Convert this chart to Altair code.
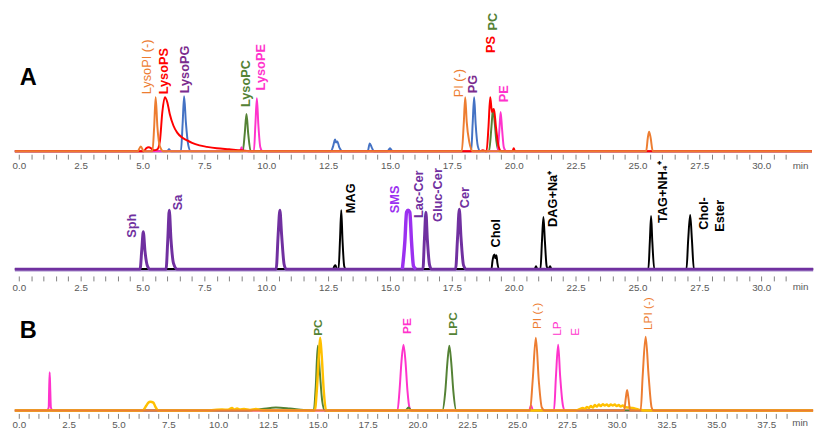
import altair as alt
import pandas as pd

FONT = "Liberation Sans"
ORANGE = "#ED7D31"
RED = "#FF0000"
BLUE = "#4472C4"
GREEN = "#548235"
MAGENTA = "#FF33CC"
PURPLE = "#7030A0"
PURPLE_TXT = "#7B2C8E"
VIOLET = "#9B30F0"
LAVENDER = "#A58BC9"
YELLOW = "#FFC000"
BLACK = "#000000"

# ---------------- Panel A (top) : (time [min], intensity) ----------------
A_BLUE = [(-0.16, 0), (6.0, 0), (6.07, 2), (6.14, 0), (6.55, 0), (6.62, 28), (6.68, 56), (6.75, 30),
          (6.85, 6), (6.95, 0), (12.6, 0), (12.7, 5), (12.75, 10), (12.78, 12), (12.82, 9), (12.87, 10),
          (12.95, 4), (13.1, 0), (14.1, 0), (14.18, 8), (14.26, 4), (14.35, 0), (14.9, 0), (15.0, 3),
          (15.1, 0), (18.28, 0), (18.34, 28), (18.4, 55), (18.46, 28), (18.55, 5), (18.65, 0), (32.05, 0)]
A_GREEN = [(-0.16, 0), (9.05, 0), (9.13, 18), (9.2, 38), (9.27, 18), (9.37, 0), (19.0, 0), (19.1, 25),
           (19.16, 43), (19.22, 32), (19.3, 10), (19.4, 0), (32.05, 0)]
A_MAGENTA = [(-0.16, 0), (8.95, 0), (9.0, 4), (9.05, 0), (9.5, 0), (9.56, 27), (9.62, 54), (9.68, 27),
             (9.76, 4), (9.85, 0), (19.35, 0), (19.42, 22), (19.47, 40), (19.53, 22), (19.6, 4),
             (19.7, 0), (32.05, 0)]
A_RED = [(-0.16, 0), (5.05, 0), (5.15, 3), (5.25, 4), (5.35, 3), (5.45, 1), (5.6, 2), (5.7, 10),
         (5.8, 40), (5.9, 55), (6.0, 50), (6.1, 38), (6.25, 26), (6.4, 19), (6.6, 14), (6.8, 11),
         (7.0, 8.5), (7.3, 6), (7.6, 4.5), (8.0, 3), (8.5, 2), (9.0, 1), (9.4, 0), (18.6, 0),
         (18.75, 1), (18.9, 0), (18.98, 25), (19.05, 55), (19.12, 40), (19.2, 43), (19.28, 25),
         (19.38, 6), (19.5, 0), (19.95, 0), (20.0, 3), (20.05, 0), (32.05, 0)]
A_ORANGE = [(-0.16, 0), (4.8, 0), (4.93, 5), (5.05, 0), (5.4, 0), (5.47, 25), (5.53, 55), (5.6, 25),
            (5.7, 5), (5.85, 0), (17.9, 0), (17.98, 28), (18.04, 55), (18.1, 30), (18.2, 10),
            (18.35, 0), (25.35, 0), (25.42, 14), (25.47, 20), (25.53, 14), (25.62, 0), (32.05, 0)]

A_LABELS_BOLD = [("LysoPS", 5.88, 58, RED), ("LysoPG", 6.71, 59, PURPLE_TXT),
                 ("LysoPC", 9.18, 45, GREEN), ("LysoPE", 9.81, 62, MAGENTA),
                 ("PG", 18.36, 59, PURPLE_TXT), ("PS", 19.1, 100, RED),
                 ("PC", 19.15, 123, GREEN), ("PE", 19.59, 50, MAGENTA)]
A_LABELS_NORMAL = [("LysoPI (-)", 5.2, 58, ORANGE), ("PI (-)", 17.8, 55, ORANGE)]

# ---------------- Panel A (middle) ----------------
M_LAV = [(-0.16, -1.5), (32.1, -1.5)]
M_BLACK = [(-0.16, 0), (12.7, 0), (12.75, 3), (12.8, 4), (12.85, 0), (12.92, 0), (12.98, 30),
           (13.03, 60), (13.08, 30), (13.15, 3), (13.22, 0), (19.1, 0), (19.14, 8), (19.18, 13),
           (19.22, 15), (19.26, 11), (19.3, 14), (19.34, 6), (19.4, 0), (20.85, 0), (20.9, 3),
           (20.95, 0), (21.08, 0), (21.14, 28), (21.2, 53), (21.26, 28), (21.33, 3), (21.4, 0),
           (21.47, 3), (21.52, 0), (25.44, 0), (25.5, 28), (25.55, 54), (25.6, 28), (25.68, 0),
           (26.98, 0), (27.05, 30), (27.13, 55), (27.2, 30), (27.28, 0), (32.1, 0)]
M_PURPLE = [(-0.16, 0), (4.9, 0), (4.97, 20), (5.03, 38), (5.1, 18), (5.2, 3), (5.3, 0), (5.95, 0),
            (6.02, 30), (6.08, 60), (6.15, 30), (6.25, 6), (6.4, 0), (10.4, 0), (10.48, 35),
            (10.55, 60), (10.62, 35), (10.72, 5), (10.8, 0), (16.33, 0), (16.39, 30), (16.45, 58),
            (16.51, 30), (16.6, 4), (16.68, 0), (17.65, 0), (17.73, 32), (17.8, 61), (17.87, 32),
            (17.97, 4), (18.07, 0), (32.1, 0)]
M_VIOLET = [(15.5, 0), (15.6, 28), (15.67, 58), (15.73, 60), (15.8, 58), (15.87, 28), (15.95, 3),
            (16.05, 0)]

M_LABELS_PURPLE = [("Sph", 4.57, 32, PURPLE), ("Sa", 6.44, 60, PURPLE), ("SMS", 15.22, 57, VIOLET),
                   ("Lac-Cer", 16.17, 52, PURPLE), ("Gluc-Cer", 16.96, 48, PURPLE),
                   ("Cer", 18.04, 62, PURPLE)]
M_LABELS_BLACK = [("MAG", 13.43, 57, BLACK), ("Chol", 19.27, 22, BLACK),
                  ("DAG+Na\u207a", 21.57, 43, BLACK), ("TAG+NH\u2084\u207a", 26.02, 47, BLACK),
                  ("Chol-", 27.69, 40, BLACK), ("Ester", 28.33, 38, BLACK)]

# ---------------- Panel B (bottom) ----------------
B_MAGENTA = [(-0.2, 0), (1.4, 0), (1.5, 3), (1.52, 20), (1.55, 39), (1.58, 20), (1.61, 3), (1.7, 0),
             (19.0, 0), (19.1, 20), (19.2, 50), (19.3, 67), (19.4, 50), (19.5, 20), (19.6, 3),
             (19.7, 0), (25.6, 0), (25.7, 5), (25.8, 0), (26.85, 0), (26.95, 35), (27.06, 67),
             (27.16, 35), (27.3, 5), (27.4, 0), (39.85, 0)]
B_GREEN = [(-0.2, 0), (11.5, 0), (12.2, 1.5), (12.9, 3), (13.6, 2), (14.3, 0.5), (14.8, 0),
           (14.9, 25), (15.0, 66), (15.1, 40), (15.22, 10), (15.35, 0), (19.4, 0), (19.55, 3),
           (19.7, 0), (21.25, 0), (21.4, 20), (21.5, 48), (21.6, 66), (21.7, 48), (21.8, 20),
           (21.95, 0), (39.85, 0)]
B_YELLOW = [(-0.2, 0), (6.2, 0), (6.4, 5), (6.5, 8), (6.6, 9), (6.75, 8), (6.85, 4), (7.0, 0),
            (9.4, 0), (9.8, 0.5), (10.2, 1), (10.5, 0.8), (10.7, 2.5), (10.8, 1), (10.95, 2),
            (11.1, 1), (11.3, 1.5), (11.6, 0.5), (11.9, 1.5), (12.1, 0.5), (12.5, 0), (14.85, 0),
            (14.95, 20), (15.05, 55), (15.12, 74), (15.2, 55), (15.3, 20), (15.42, 0), (27.9, 0),
            (28.1, 1), (28.3, 2.5), (28.4, 1.5), (28.5, 3.5), (28.6, 2.5), (28.7, 4.5), (28.8, 3),
            (28.9, 5.5), (29.0, 4), (29.1, 6), (29.2, 4.5), (29.3, 6.5), (29.4, 5), (29.5, 6),
            (29.6, 4.5), (29.7, 6), (29.8, 5), (29.9, 6), (30.0, 4.5), (30.1, 5.5), (30.2, 4),
            (30.3, 5), (30.4, 3.5), (30.6, 3), (30.8, 2.5), (31.0, 1.5), (31.2, 0.5), (31.4, 0),
            (39.85, 0)]
B_ORANGE = [(-0.2, 0), (25.65, 0), (25.78, 30), (25.94, 74), (26.09, 30), (26.24, 3), (26.38, 0),
            (30.37, 0), (30.45, 12), (30.52, 21), (30.59, 12), (30.67, 0), (31.2, 0), (31.3, 35),
            (31.45, 75), (31.6, 35), (31.75, 3), (31.85, 0), (39.85, 0)]

B_LABELS_BOLD = [("PC", 15.02, 76, GREEN), ("PE", 19.46, 78, MAGENTA), ("LPC", 21.77, 76, GREEN)]
B_LABELS_NORMAL = [("PI (-)", 25.98, 83, ORANGE), ("LP", 27.02, 76, MAGENTA), ("E", 27.9, 76, MAGENTA),
                   ("LPI (-)", 31.55, 82, ORANGE)]

# panel letters and unit labels: (text, time, intensity)
A_LETTER = [("A", 0.38, 74)]
B_LETTER = [("B", 0.47, 81)]
MIN_TOP = [("min", 31.59, -15)]
MIN_MID = [("min", 31.59, -18)]
MIN_BOT = [("min", 39.2, -13)]

TICKS_AB = [i * 0.5 for i in range(0, 63)]   # 0.0 ... 31.0
TICKS_C = [i * 0.5 for i in range(0, 78)]    # 0.0 ... 38.5

W = 808


def make_axis(values, offset, pad):
    return alt.Axis(values=values, labelExpr="datum.value % 2.5 == 0 ? format(datum.value, '.1f') : ''",
                    domain=False, grid=False, ticks=True, tickSize=5, tickColor="#808080", tickWidth=1,
                    labelFontSize=10, labelColor="#595959", labelFont=FONT, labelPadding=pad,
                    labelOverlap=False, labelFlush=False, labelBound=False, title=None, offset=offset)


def panel(traces, label_sets, extra_texts, xdom, ydom, height, axis, label_size):
    xs = alt.Scale(domain=xdom, nice=False, zero=False)
    ys = alt.Scale(domain=ydom, nice=False, zero=False)
    X = alt.X("t:Q", scale=xs, axis=axis)
    Y = alt.Y("v:Q", scale=ys, axis=None)
    layers = []
    for pts, color, width in traces:
        df = pd.DataFrame(pts, columns=["t", "v"])
        layers.append(alt.Chart(df).mark_line(color=color, strokeWidth=width, interpolate="monotone")
                      .encode(x=X, y=Y))
    for rows, weight in label_sets:
        df = pd.DataFrame(rows, columns=["text", "t", "v", "color"])
        layers.append(alt.Chart(df).mark_text(angle=270, align="left", baseline="middle", font=FONT,
                                              fontSize=label_size, fontWeight=weight)
                      .encode(x=X, y=Y, text="text:N", color=alt.Color("color:N", scale=None)))
    for rows, size, weight, color in extra_texts:
        df = pd.DataFrame(rows, columns=["text", "t", "v"])
        layers.append(alt.Chart(df).mark_text(align="center", baseline="middle", font=FONT,
                                              fontSize=size, fontWeight=weight, color=color)
                      .encode(x=X, y=Y, text="text:N"))
    return alt.layer(*layers).properties(width=W, height=height)


top = panel(
    [(A_BLUE, BLUE, 2), (A_GREEN, GREEN, 2), (A_MAGENTA, MAGENTA, 2), (A_RED, RED, 2),
     (A_ORANGE, ORANGE, 2)],
    [(A_LABELS_BOLD, "bold"), (A_LABELS_NORMAL, "normal")],
    [(A_LETTER, 24, "bold", BLACK), (MIN_TOP, 10, "normal", "#595959")],
    [-0.159, 31.9], [-2, 142], 144, make_axis(TICKS_AB, 1, 2), 13)

mid = panel(
    [(M_LAV, LAVENDER, 2), (M_BLACK, BLACK, 2), (M_PURPLE, PURPLE, 3), (M_VIOLET, VIOLET, 3.5)],
    [(M_LABELS_PURPLE, "bold"), (M_LABELS_BLACK, "bold")],
    [(MIN_MID, 10, "normal", "#595959")],
    [-0.159, 31.9], [-2, 102], 104, make_axis(TICKS_AB, 5, 2), 13)

bot = panel(
    [(B_MAGENTA, MAGENTA, 2), (B_GREEN, GREEN, 2), (B_YELLOW, YELLOW, 2.5), (B_ORANGE, ORANGE, 2)],
    [(B_LABELS_BOLD, "bold"), (B_LABELS_NORMAL, "normal")],
    [(B_LETTER, 24, "bold", BLACK), (MIN_BOT, 10, "normal", "#595959")],
    [-0.197, 39.606], [-2, 126], 128, make_axis(TICKS_C, 1, 1), 12)

chart = alt.vconcat(top, mid, bot, spacing=16, bounds="flush").properties(
    padding={"left": 0, "top": 0, "right": 0, "bottom": 0}
).configure_view(stroke=None)

chart.save("out.html", embed_options={"renderer": "svg", "actions": False})
